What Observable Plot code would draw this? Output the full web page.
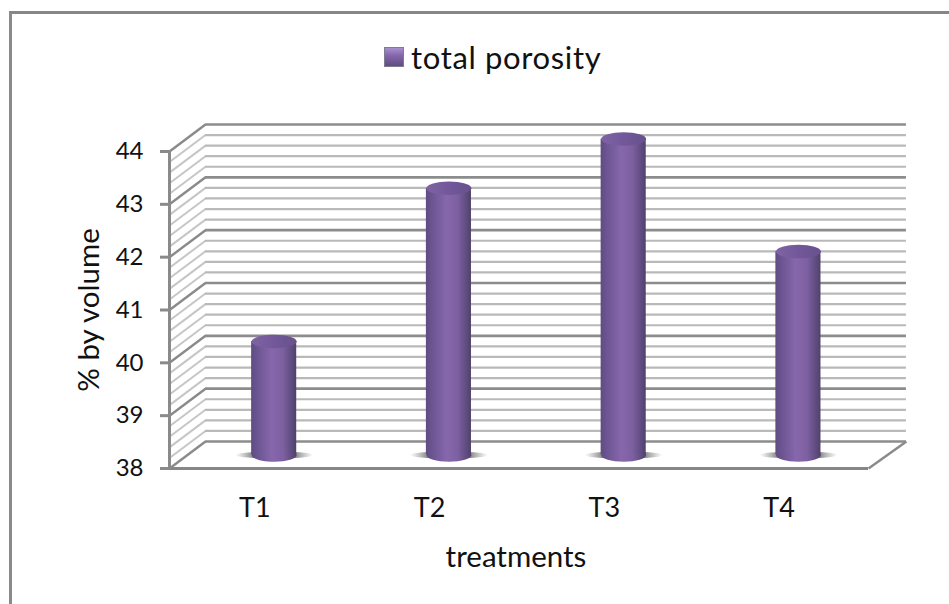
<!DOCTYPE html>
<html>
<head>
<meta charset="utf-8">
<script src="https://cdn.jsdelivr.net/npm/d3@7"></script>
<script src="https://cdn.jsdelivr.net/npm/@observablehq/plot@0.6"></script>
<style>
  html, body { margin: 0; padding: 0; background: #fff; }
  #page { position: relative; width: 949px; height: 604px; overflow: hidden; font-family: Lato, sans-serif; }
  #frame { position: absolute; left: 9px; top: 11px; width: 1000px; height: 700px; border-left: 3px solid #8a8a8a; border-top: 3px solid #868686; }
  #legend { position: absolute; left: 384px; top: 37px; display: flex; align-items: center; color: #111; font-size: 31px; line-height: 40px; letter-spacing: 0.65px; }
  #swatch { width: 18px; height: 18px; margin-right: 7px; border: 1px solid #7d7d90; background:
    linear-gradient(to bottom, #a78fce 0, #8668ad 40%, #5f4b82 100%); }
  svg { position: absolute; left: 0; top: 0; background: transparent !important; }
</style>
</head>
<body>
<div id="page">
  <div id="frame"></div>
  <div id="legend"><span id="swatch"></span><span>total porosity</span></div>
</div>
<script>
const categories = ["T1", "T2", "T3", "T4"];
const values = [40.15, 43.05, 43.98, 41.85];
const majorTicks = [38, 39, 40, 41, 42, 43, 44];
const minorTicks = [38.2, 38.4, 38.6, 38.8, 39.2, 39.4, 39.6, 39.8, 40.2, 40.4, 40.6, 40.8, 41.2, 41.4, 41.6, 41.8, 42.2, 42.4, 42.6, 42.8, 43.2, 43.4, 43.6, 43.8];
const seriesName = "total porosity";
const xTitle = "treatments";
const yTitle = "% by volume";

// The box's depth, in units of the two scales
const depthX = 0.206;
const depthY = 0.511;
const rightEnd = 4.217;
const halfBar = 0.129;
const capRatio = 0.3;

const ellipse = (ratio) => ({
  draw(ctx, size) {
    const rx = Math.sqrt(size / Math.PI), ry = rx * ratio, k = 0.5523;
    ctx.moveTo(-rx, 0);
    ctx.bezierCurveTo(-rx, -k * ry, -k * rx, -ry, 0, -ry);
    ctx.bezierCurveTo(k * rx, -ry, rx, -k * ry, rx, 0);
    ctx.bezierCurveTo(rx, k * ry, k * rx, ry, 0, ry);
    ctx.bezierCurveTo(-k * rx, ry, -rx, k * ry, -rx, 0);
    ctx.closePath();
  }
});

const table = categories.map((name, i) => ({
  name,
  value: values[i],
  mid: i + 0.496 + depthX / 2
}));
const base = 38 + depthY / 2;

function gradients() {
  const defs = d3.create("svg:defs");
  const add = (id, stops) => {
    const g = defs.append("linearGradient").attr("id", id);
    stops.forEach(([o, c, a]) => g.append("stop").attr("offset", o).attr("stop-color", c).attr("stop-opacity", a ?? 1));
  };
  add("cyl", [[0, "#5f4c80"], [0.12, "#6a5490"], [0.45, "#8667ac"], [0.7, "#7d60a1"], [0.92, "#5c4a7c"], [1, "#4f4168"]]);
  add("cap", [[0, "#7f63a4"], [0.5, "#72589a"], [1, "#67518c"]]);
  add("shadow", [[0, "#888", 0], [0.22, "#707070", 0.8], [0.78, "#707070", 0.8], [1, "#888", 0]]);
  return defs.node();
}

const plot = Plot.plot({
  width: 949,
  height: 604,
  marginLeft: 169,
  marginRight: 81,
  marginTop: 151,
  marginBottom: 136,
  x: { type: "linear", domain: [0, 4], axis: null },
  y: { type: "linear", domain: [38, 44] },
  style: { fontFamily: "Lato, sans-serif", overflow: "visible" },
  marks: [
    gradients,
    // minor grid, back wall and side wall
    Plot.link(minorTicks, { x1: 0, y1: d => d, x2: depthX, y2: d => d + depthY, stroke: "#c6c6c6", strokeWidth: 2 }),
    Plot.ruleY(minorTicks, { y: d => d + depthY, x1: depthX, x2: rightEnd, stroke: "#b9b9b9", strokeWidth: 2.2 }),
    // major grid
    Plot.link(majorTicks, { x1: 0, y1: d => d, x2: depthX, y2: d => d + depthY, stroke: "#8a8a8a", strokeWidth: 2.4 }),
    Plot.ruleY(majorTicks, { y: d => d + depthY, x1: depthX, x2: rightEnd, stroke: "#8c8c8c", strokeWidth: 2.6 }),
    // floor
    Plot.link([38], { x1: 4, y1: d => d, x2: rightEnd, y2: d => d + depthY, stroke: "#8a8a8a", strokeWidth: 2.4 }),
    Plot.ruleY([38], { x1: 0, x2: 4, stroke: "#868686", strokeWidth: 3 }),
    Plot.ruleX([0], { y1: 38, y2: 44, stroke: "#8a8a8a", strokeWidth: 3 }),
    // cylinders
    Plot.dot(table, { x: "mid", y: () => base, r: 39, symbol: ellipse(0.09), fill: "url(#shadow)", stroke: "none" }),
    Plot.dot(table, { x: "mid", y: () => base, r: 22.5, symbol: ellipse(capRatio), fill: "url(#cyl)", stroke: "none" }),
    Plot.rect(table, { x1: d => d.mid - halfBar, x2: d => d.mid + halfBar, y1: () => base, y2: d => d.value + depthY / 2, fill: "url(#cyl)" }),
    Plot.dot(table, { x: "mid", y: d => d.value + depthY / 2, r: 22.5, symbol: ellipse(capRatio), fill: "url(#cap)", stroke: "none" }),
    // axes and text
    Plot.axisY({ ticks: majorTicks, tickFormat: d => String(d), tickSize: 9, tickPadding: 17, fontSize: 24, stroke: "#8a8a8a", strokeWidth: 3, fill: "#111", label: null }),
    Plot.text(categories, { x: (d, i) => i + 0.5, frameAnchor: "bottom", dy: 48, dx: -2, text: d => d, fontSize: 27, fill: "#111" }),
    Plot.text([xTitle], { x: () => 2, frameAnchor: "bottom", dy: 98, dx: -3, text: d => d, fontSize: 29.5, fill: "#111" }),
    Plot.text([yTitle], { y: () => 41, frameAnchor: "left", textAnchor: "middle", dx: -80, rotate: -90, text: d => d, fontSize: 29.5, fill: "#111" })
  ]
});
document.getElementById("page").appendChild(plot);
</script>
</body>
</html>
